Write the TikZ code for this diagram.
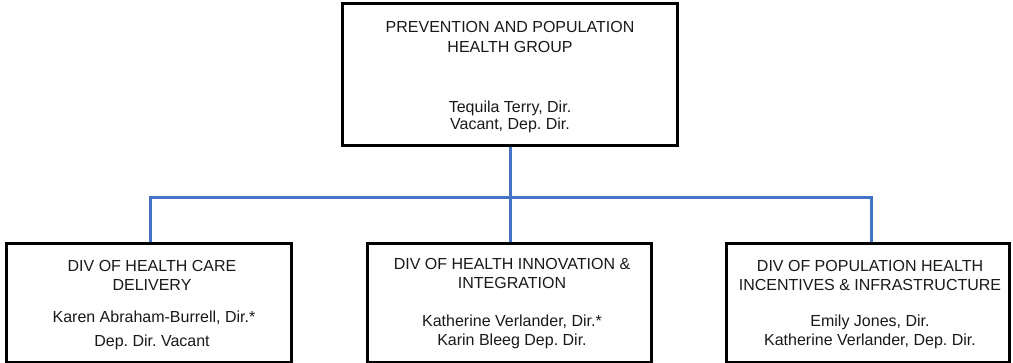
\documentclass[tikz,border=0pt]{standalone}
\usepackage{fontspec}
\setmainfont{Liberation Sans}
\definecolor{linkblue}{HTML}{4472C4}
\frenchspacing
\begin{document}
\begin{tikzpicture}[x=1pt,y=-1pt,
  box/.style={draw=black, line width=2.6pt, inner sep=0pt, fill=white},
  lbl/.style={anchor=base, font=\fontsize{16}{19}\selectfont, inner sep=0pt, text=black!90},
  conn/.style={draw=linkblue, line width=3pt}]
\useasboundingbox (0,0) rectangle (1013,362);
% boxes
\node[box, minimum width=335pt, minimum height=142pt] (top) at (510,74.5) {};
\node[box, minimum width=285.4pt, minimum height=119.2pt] (b1) at (149,302.9) {};
\node[box, minimum width=284.4pt, minimum height=119.2pt] (b2) at (509.5,302.9) {};
\node[box, minimum width=283.4pt, minimum height=119.2pt] (b3) at (868,302.9) {};
% connectors
\coordinate (bus) at (510,197.5);
\draw[conn] (top.south) -- (bus);
\draw[conn] ([xshift=1pt]b1.north) |- (bus) -| ([xshift=3pt]b3.north);
\draw[conn] (bus) -- ([xshift=0.5pt]b2.north);
% texts top
\node[lbl] (t1) at (510,32) {PREVENTION AND POPULATION};
\node[lbl] (t2) at (510,52) {HEALTH GROUP};
\node[lbl] (t3) at (510,112.7) {Tequila Terry, Dir.};
\node[lbl] (t4) at (510,129.3) {Vacant, Dep. Dir.};
% box 1
\node[lbl] (a1) at (152,271) {DIV OF HEALTH CARE};
\node[lbl] (a2) at (152,290) {DELIVERY};
\node[lbl] (a3) at (154,322) {Karen Abraham-Burrell, Dir.*};
\node[lbl] (a4) at (152,346.7) {Dep. Dir. Vacant};
% box 2
\node[lbl] (c1) at (512,269) {DIV OF HEALTH INNOVATION \&};
\node[lbl] (c2) at (512,288.3) {INTEGRATION};
\node[lbl] (c3) at (512,326.7) {Katherine Verlander, Dir.*};
\node[lbl] (c4) at (512,345) {Karin Bleeg Dep. Dir.};
% box 3
\node[lbl] (d1) at (870,271.7) {DIV OF POPULATION HEALTH};
\node[lbl] (d2) at (870,290) {INCENTIVES \& INFRASTRUCTURE};
\node[lbl] (d3) at (870,326.7) {Emily Jones, Dir.};
\node[lbl] (d4) at (870,345) {Katherine Verlander, Dep. Dir.};
\end{tikzpicture}
\end{document}
